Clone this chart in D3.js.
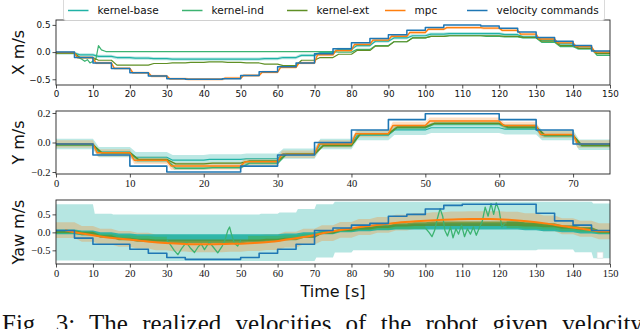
<!DOCTYPE html>
<html>
<head>
<meta charset="utf-8">
<script src="https://cdn.jsdelivr.net/npm/d3@7"></script>
<style>
  body { margin: 0; background: #fff; }
  svg { display: block; }
</style>
</head>
<body>
<svg id="chart" width="640" height="329"></svg>
<script>
// ---- data ----
const seriesNames = ["kernel-base", "kernel-ind", "kernel-ext", "mpc", "velocity commands"]
const seriesColors = ["#20b2a6", "#3cb371", "#5f8f25", "#ff7f0e", "#1f77b4"]

// start of each 5 s command segment
const segStart = [0, 5, 10, 15, 20, 25, 30, 35, 40, 45, 50, 55, 60, 65, 70,
  75, 80, 85, 90, 95, 100, 105, 110, 115, 120, 125, 130, 135, 140, 145]

const ticks150 = [0, 10, 20, 30, 40, 50, 60, 70, 80, 90, 100, 110, 120, 130, 140, 150]
const ticks75 = [0, 10, 20, 30, 40, 50, 60, 70]

// X panel
const xCmd = [0.0, -0.1, -0.2, -0.3, -0.38, -0.44, -0.49, -0.5, -0.5, -0.49, -0.43, -0.36, -0.27, -0.2, -0.03,
  0.06, 0.17, 0.25, 0.32, 0.4, 0.45, 0.5, 0.5, 0.48, 0.44, 0.37, 0.27, 0.2, 0.12, 0.02]
const xMpc = [-0.01, -0.1, -0.2, -0.3, -0.38, -0.44, -0.49, -0.5, -0.5, -0.48, -0.43, -0.37, -0.28, -0.2, -0.05,
  0.03, 0.14, 0.22, 0.29, 0.36, 0.42, 0.45, 0.45, 0.44, 0.4, 0.33, 0.24, 0.17, 0.1, 0.0]
const xKb = [-0.02, -0.05, -0.08, -0.1, -0.11, -0.12, -0.13, -0.13, -0.13, -0.13, -0.13, -0.12, -0.1, -0.06, -0.01,
  0.05, 0.12, 0.2, 0.26, 0.3, 0.33, 0.34, 0.34, 0.34, 0.32, 0.28, 0.22, 0.15, 0.07, -0.02]
const xKind = [-0.02, -0.15, 0.01, 0.01, 0.01, 0.01, 0.01, 0.01, 0.01, 0.01, 0.01, 0.01, 0.01, 0.01, 0.01,
  0.0, 0.05, 0.12, 0.19, 0.26, 0.29, 0.3, 0.3, 0.29, 0.28, 0.26, 0.18, 0.1, 0.06, -0.06]
const xKindStart = [[0, -0.02], [5, -0.02], [6, -0.1], [7, -0.13], [7.8, -0.17], [8.5, -0.14], [9.2, -0.2],
  [10, -0.17], [10.8, -0.13], [11.5, 0.12], [12.3, 0.04], [13.5, 0.01], [15, 0.01]]
const xKext = [-0.02, -0.1, -0.15, -0.24, -0.24, -0.21, -0.2, -0.19, -0.18, -0.19, -0.2, -0.22, -0.25, -0.15, -0.1,
  -0.04, 0.03, 0.11, 0.19, 0.26, 0.29, 0.3, 0.3, 0.3, 0.29, 0.27, 0.2, 0.12, 0.07, -0.03]
const xStd = { kb: 0.03, mpc: 0.025, kind: 0.015 }

// Y panel (0..75 s)
const yCmd = [-0.01, -0.085, -0.16, -0.2, -0.2, -0.16, -0.085, 0.0, 0.085, 0.155, 0.195, 0.195, 0.155, 0.085, -0.01]
const yMpc = [-0.01, -0.07, -0.12, -0.16, -0.16, -0.13, -0.08, -0.01, 0.06, 0.115, 0.145, 0.145, 0.115, 0.055, -0.01]
const yKb = [-0.01, -0.065, -0.1, -0.12, -0.115, -0.11, -0.075, -0.01, 0.05, 0.085, 0.1, 0.1, 0.09, 0.05, -0.015]
const yKind = [-0.015, -0.07, -0.12, -0.175, -0.17, -0.14, -0.08, -0.02, 0.055, 0.1, 0.125, 0.125, 0.1, 0.045, -0.02]
const yKext = [-0.015, -0.07, -0.115, -0.145, -0.14, -0.125, -0.08, -0.02, 0.06, 0.105, 0.13, 0.13, 0.105, 0.05, -0.02]
const yStd = { kb: 0.035, mpc: 0.025, kind: 0.01 }

// Yaw panel
const yawCmd = [0.05, -0.16, -0.33, -0.33, -0.47, -0.58, -0.7, -0.75, -0.75, -0.75, -0.7, -0.58, -0.47, -0.33, 0.05,
  0.12, 0.2, 0.25, 0.45, 0.5, 0.65, 0.75, 0.78, 0.78, 0.78, 0.78, 0.53, 0.32, 0.2, 0.05]
const yawMpc = [0.06, -0.04, -0.12, -0.18, -0.23, -0.28, -0.31, -0.33, -0.33, -0.32, -0.3, -0.27, -0.2, -0.12, -0.02,
  0.07, 0.15, 0.21, 0.27, 0.31, 0.34, 0.36, 0.37, 0.37, 0.35, 0.31, 0.25, 0.17, 0.1, 0.03]
const yawMpcStd = 0.22
const yawKbBandHi = [0.78, 0.78, 0.52, 0.5, 0.5, 0.5, 0.5, 0.5, 0.5, 0.5, 0.5, 0.52, 0.55, 0.65, 0.78,
  0.85, 0.85, 0.85, 0.85, 0.85, 0.85, 0.85, 0.85, 0.85, 0.85, 0.85, 0.85, 0.85, 0.85, 0.8]
const yawKbBandLo = [-0.78, -0.78, -0.8, -0.8, -0.8, -0.8, -0.8, -0.8, -0.8, -0.8, -0.8, -0.8, -0.8, -0.8, -0.7,
  -0.56, -0.5, -0.5, -0.5, -0.5, -0.5, -0.5, -0.5, -0.5, -0.5, -0.5, -0.48, -0.48, -0.55, -0.72]
const yawKbHi = [0.08, 0.05, 0.0, -0.03, -0.05, -0.05, -0.05, -0.05, -0.05, -0.05, -0.05, -0.05, -0.03, 0.0, 0.05,
  0.1, 0.15, 0.2, 0.22, 0.24, 0.25, 0.25, 0.25, 0.25, 0.24, 0.22, 0.18, 0.15, 0.1, 0.05]
const yawKbLo = [-0.05, -0.08, -0.12, -0.18, -0.22, -0.24, -0.25, -0.25, -0.25, -0.25, -0.24, -0.22, -0.18, -0.12, -0.05,
  0.0, 0.03, 0.06, 0.08, 0.08, 0.08, 0.08, 0.08, 0.08, 0.08, 0.06, 0.03, 0.0, -0.03, -0.05]
const yawKindHi = [0.05, 0.02, -0.04, -0.08, -0.1, -0.12, null, null, null, null, -0.1, -0.1, -0.08, -0.04, 0.04,
  0.1, 0.14, 0.18, 0.2, 0.22, null, null, null, null, 0.3, 0.27, 0.22, 0.17, 0.12, 0.06]
const yawKindLo = [-0.04, -0.08, -0.14, -0.2, -0.22, -0.24, null, null, null, null, -0.24, -0.22, -0.18, -0.12, -0.03,
  0.02, 0.06, 0.08, 0.1, 0.1, null, null, null, null, 0.12, 0.1, 0.08, 0.04, 0.0, -0.04]
const yawKextHi = [0.06, 0.02, -0.08, -0.15, -0.18, -0.2, -0.2, -0.2, -0.2, -0.2, -0.2, -0.18, -0.15, -0.1, 0.02,
  0.1, 0.15, 0.2, 0.25, 0.28, 0.3, 0.3, 0.3, 0.3, 0.3, 0.28, 0.25, 0.2, 0.15, 0.06]
const yawKextLo = [-0.02, -0.06, -0.14, -0.22, -0.26, -0.28, -0.3, -0.3, -0.3, -0.3, -0.28, -0.26, -0.22, -0.16, -0.04,
  0.04, 0.08, 0.12, 0.16, 0.18, 0.18, 0.18, 0.18, 0.18, 0.18, 0.16, 0.14, 0.1, 0.06, -0.02]
const yawKindOsc1 = [[30, -0.2], [31, -0.35], [32, -0.5], [33, -0.62], [34, -0.45], [35.3, -0.28], [36.5, -0.45],
  [37.5, -0.56], [38.5, -0.4], [39.3, -0.32], [40.2, -0.48], [41.5, -0.27], [42.5, -0.4], [43.8, -0.57], [45, -0.38],
  [45.8, -0.2], [46.5, 0.05], [47, 0.15], [47.5, -0.05], [48.3, -0.3], [49.2, -0.38], [50, -0.22]]
const yawKindOsc2 = [[100, 0.12], [101, 0.0], [101.8, -0.12], [102.5, 0.05], [103.3, 0.4], [104, 0.66], [104.7, 0.45],
  [105.3, 0.05], [106, -0.1], [106.8, 0.15], [107.5, -0.15], [108.3, 0.1], [109, -0.05], [109.8, 0.2], [110.6, -0.12],
  [111.4, 0.1], [112.2, -0.05], [113, 0.15], [113.8, -0.08], [114.6, 0.12], [115.4, 0.3], [116.2, 0.7], [117, 0.45],
  [117.8, 0.8], [118.5, 0.5], [119.2, 0.82], [120, 0.6], [120.7, 0.15], [121.5, 0.25]]

// ---- drawing ----
const svg = d3.select("#chart")
const left = 56, right = 610

// step response path: hold each segment value, ramp over `lag` seconds after a switch
const ramp = (vals, lag, end) => {
  const pts = [[segStart[0], vals[0]]]
  for (let k = 1; k < vals.length; k++) {
    pts.push([segStart[k], vals[k - 1]])
    pts.push([segStart[k] + lag, vals[k]])
  }
  pts.push([end, vals[vals.length - 1]])
  return pts
}
const rampBand = (lo, hi, lag, end) => {
  const a = ramp(lo, lag, end), b = ramp(hi, lag, end)
  return a.map((p, i) => [p[0], p[1], b[i][1]])
}
const fmt = d => d3.format(".1f")(d).replace("-", "\u2212")

let clipId = 0
function makePanel({ top, bottom, xMax, yDomain, yTicks, xTicks, tickFont }) {
  const x = d3.scaleLinear().domain([0, xMax]).range([left, right])
  const y = d3.scaleLinear().domain(yDomain).range([bottom, top])
  const id = "clip" + (clipId++)
  svg.append("clipPath").attr("id", id)
    .append("rect").attr("x", left).attr("y", top).attr("width", right - left).attr("height", bottom - top)
  const plot = svg.append("g").attr("clip-path", `url(#${id})`)

  const yAxis = svg.append("g")
    .attr("transform", `translate(${left},0)`)
    .call(d3.axisLeft(y).tickValues(yTicks).tickSize(3.5).tickPadding(2).tickFormat(fmt))
  const xAxis = svg.append("g")
    .attr("transform", `translate(0,${bottom})`)
    .call(d3.axisBottom(x).tickValues(xTicks).tickSize(3.5).tickPadding(2).tickFormat(d3.format("d")))
  for (const ax of [yAxis, xAxis]) {
    ax.select(".domain").remove()
    ax.selectAll("line").attr("stroke", "#222").attr("stroke-width", 0.8)
    ax.selectAll("text").attr("font-family", tickFont).attr("font-size", tickFont.includes("Serif") ? 10.5 : 8.8).attr("fill", "#111")
  }
  return { x, y, plot, frame: () => svg.append("rect")
    .attr("x", left).attr("y", top).attr("width", right - left).attr("height", bottom - top)
    .attr("fill", "none").attr("stroke", "#222").attr("stroke-width", 0.9) }
}

function band(p, pts, fill, opacity) {
  p.plot.append("path")
    .datum(pts)
    .attr("fill", fill).attr("fill-opacity", opacity)
    .attr("d", d3.area().defined(d => d[1] != null && d[2] != null)
      .x(d => p.x(d[0])).y0(d => p.y(d[1])).y1(d => p.y(d[2])))
}
function line(p, pts, color, width, curve) {
  p.plot.append("path")
    .datum(pts)
    .attr("fill", "none").attr("stroke", color).attr("stroke-width", width)
    .attr("stroke-linejoin", "round")
    .attr("d", d3.line().defined(d => d[1] != null).curve(curve || d3.curveLinear)
      .x(d => p.x(d[0])).y(d => p.y(d[1])))
}
const shift = (vals, s) => vals.map(v => v == null ? null : v + s)
const [cKb, cKind, cKext, cMpc, cCmd] = seriesColors

// ---- panel X ----
const pX = makePanel({ top: 20, bottom: 85, xMax: 150, yDomain: [-0.605, 0.59], yTicks: [-0.5, 0, 0.5],
  xTicks: ticks150, tickFont: "DejaVu Sans" })
band(pX, rampBand(shift(xKb, -xStd.kb), shift(xKb, xStd.kb), 1.2, 150), cKb, 0.3)
band(pX, rampBand(shift(xMpc, -xStd.mpc), shift(xMpc, xStd.mpc), 0.8, 150), cMpc, 0.28)
line(pX, ramp(xKb, 1.5, 150), cKb, 1.2)
line(pX, xKindStart.concat(ramp(xKind, 1.5, 150).filter(d => d[0] > 15)), cKind, 1.2)
line(pX, ramp(xKext, 1.5, 150), cKext, 1.2)
line(pX, ramp(xMpc, 0.8, 150), cMpc, 1.4)
line(pX, segStart.map((t, i) => [t, xCmd[i]]).concat([[150, xCmd[xCmd.length - 1]]]), cCmd, 1.5, d3.curveStepAfter)
pX.frame()

// ---- panel Y ----
const pY = makePanel({ top: 111, bottom: 174, xMax: 75, yDomain: [-0.2135, 0.2135], yTicks: [-0.2, 0, 0.2],
  xTicks: ticks75, tickFont: "Liberation Serif" })
const seg75 = segStart.slice(0, 15)
band(pY, rampBand(shift(yKb, -yStd.kb), shift(yKb, yStd.kb), 0.8, 75), cKb, 0.3)
band(pY, rampBand(shift(yMpc, -yStd.mpc), shift(yMpc, yStd.mpc), 0.6, 75), cMpc, 0.25)
band(pY, rampBand(shift(yKind, -yStd.kind), shift(yKind, yStd.kind), 1, 75), cKind, 0.35)
line(pY, ramp(yKb, 0.8, 75), cKb, 1.2)
line(pY, ramp(yKind, 1.2, 75), cKind, 1.4)
line(pY, ramp(yKext, 1.2, 75), cKext, 1.4)
line(pY, ramp(yMpc, 0.6, 75), cMpc, 1.5)
line(pY, seg75.map((t, i) => [t, yCmd[i]]).concat([[75, yCmd[yCmd.length - 1]]]), cCmd, 1.6, d3.curveStepAfter)
pY.frame()

// ---- panel Yaw ----
const pW = makePanel({ top: 200, bottom: 264, xMax: 150, yDomain: [-0.88, 0.9], yTicks: [-0.5, 0, 0.5],
  xTicks: ticks150, tickFont: "Liberation Serif" })
band(pW, rampBand(yawKbBandLo, yawKbBandHi, 0.5, 150), cKb, 0.33)
band(pW, rampBand(shift(yawMpc, -yawMpcStd), shift(yawMpc, yawMpcStd), 2, 150), cMpc, 0.28)
band(pW, rampBand(yawKbLo, yawKbHi, 2, 150), cKb, 0.9)
band(pW, rampBand(yawKindLo, yawKindHi, 2, 150), cKind, 0.85)
band(pW, rampBand(yawKextLo, yawKextHi, 2, 150), cKext, 0.75)
line(pW, yawKindOsc1, cKind, 1.3)
line(pW, yawKindOsc2, cKind, 1.3)
line(pW, segStart.map((t, i) => [t + 2.5, yawMpc[i]]).concat([[150, yawMpc[yawMpc.length - 1]]]), cMpc, 2, d3.curveMonotoneX)
line(pW, segStart.map((t, i) => [t, yawCmd[i]]).concat([[150, yawCmd[yawCmd.length - 1]]]), cCmd, 1.6, d3.curveStepAfter)
pW.frame()
// empty legend handle left in the corner of the yaw axes
svg.append("rect").attr("x", pW.x(146.5)).attr("y", pW.y(-0.55)).attr("width", 6).attr("height", 6)
  .attr("fill", "#fff").attr("stroke", "#ddd").attr("stroke-width", 0.6)

// ---- axis titles ----
const titles = [["X m/s", 52.5], ["Y m/s", 142.5], ["Yaw m/s", 232]]
svg.selectAll(".ytitle").data(titles).join("text")
  .attr("class", "ytitle")
  .attr("transform", d => `translate(18,${d[1]}) rotate(-90)`)
  .attr("text-anchor", "middle").attr("dy", "0.35em")
  .attr("font-family", "DejaVu Sans").attr("font-size", 16).attr("fill", "#111")
  .text(d => d[0])
svg.append("text").attr("x", (left + right) / 2).attr("y", 297)
  .attr("text-anchor", "middle").attr("font-family", "DejaVu Sans").attr("font-size", 16).attr("fill", "#111")
  .text("Time [s]")

// ---- legend ----
const legX = [68, 182, 287, 385, 467]
const legend = svg.append("g")
legend.append("rect").attr("x", 63.5).attr("y", -3).attr("width", 541).attr("height", 23.5).attr("rx", 2.5)
  .attr("fill", "#fff").attr("stroke", "#d0d0d0").attr("stroke-width", 0.8)
const items = legend.selectAll(".item").data(seriesNames).join("g")
  .attr("class", "item").attr("transform", (d, i) => `translate(${legX[i]},10.5)`)
items.append("line").attr("x1", 0).attr("x2", 20.5)
  .attr("stroke", (d, i) => seriesColors[i]).attr("stroke-width", 1.5)
items.append("text").attr("x", 29.5).attr("dy", "0.35em")
  .attr("font-family", "DejaVu Sans").attr("font-size", 10.5).attr("fill", "#111")
  .text(d => d)

// ---- caption (cut off at the bottom of the image) ----
svg.append("text").attr("x", 2).attr("y", 332)
  .attr("font-family", "Liberation Serif").attr("font-size", 25).attr("word-spacing", 8).attr("fill", "#111")
  .text("Fig. 3: The realized velocities of the robot given velocity")
</script>
</body>
</html>
